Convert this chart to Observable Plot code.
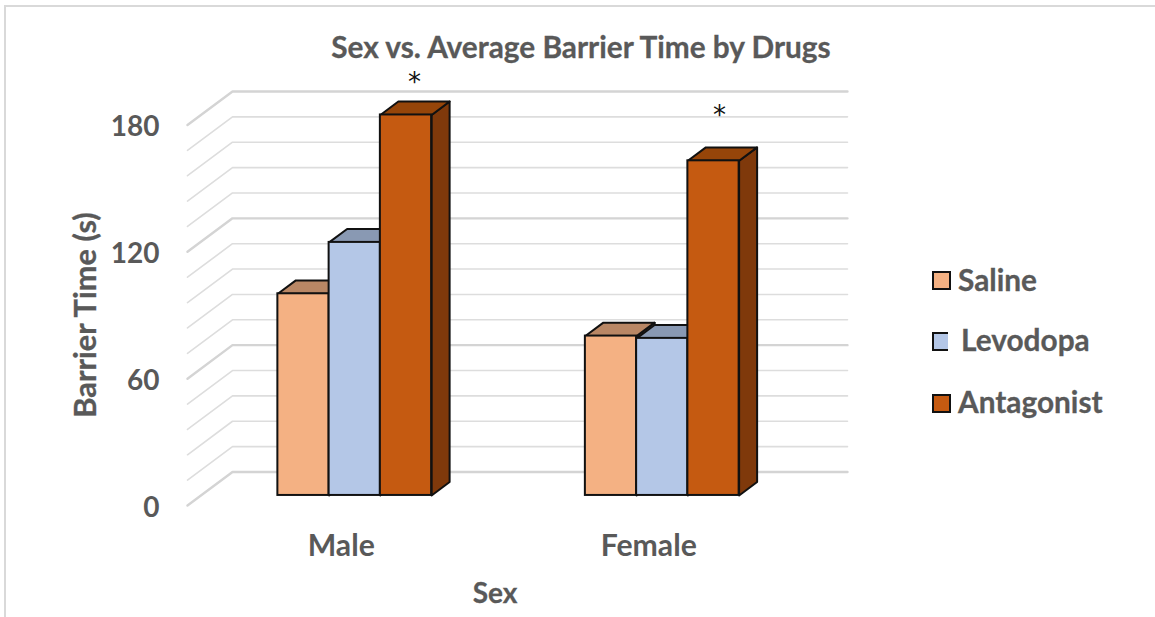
<!DOCTYPE html>
<html>
<head>
<meta charset="utf-8">
<script src="https://cdn.jsdelivr.net/npm/d3@7"></script>
<script src="https://cdn.jsdelivr.net/npm/@observablehq/plot@0.6"></script>
<style>
  html, body { margin: 0; padding: 0; background: #fff; overflow: hidden; }
  #frame { position: absolute; left: 4px; top: 5px; width: 1151px; height: 612px;
           border-left: 2px solid #d9d9d9; border-top: 2px solid #d9d9d9; box-sizing: border-box; }
  #chart { position: absolute; left: 0; top: 0; }
  .t { position: absolute; font-family: Lato, sans-serif; font-weight: 700; color: #595959; white-space: nowrap; line-height: 1; -webkit-text-stroke: 0.3px #595959; }
  .sw { position: absolute; box-sizing: border-box; border: 2px solid #111; }
</style>
</head>
<body>
<div id="frame"></div>
<div id="chart"></div>
<div class="t" style="left:581px;top:32px;font-size:29.8px;transform:translateX(-50%)">Sex vs. Average Barrier Time by Drugs</div>
<div class="t" style="left:85px;top:315px;font-size:30.8px;transform:translate(-50%,-50%) rotate(-90deg)">Barrier Time (s)</div>
<div class="t" style="left:495px;top:578px;font-size:28px;transform:translateX(-50%)">Sex</div>
<div class="sw" style="left:932px;top:271px;width:19px;height:19px;background:#f4b183"></div>
<div class="t" style="left:958px;top:265px;font-size:29.8px">Saline</div>
<div class="sw" style="left:932px;top:332px;width:16px;height:19px;background:#b4c7e7;border-right:0"></div>
<div class="t" style="left:961px;top:325px;font-size:29.8px">Levodopa</div>
<div class="sw" style="left:932px;top:394px;width:19px;height:19px;background:#c55a11"></div>
<div class="t" style="left:958px;top:387px;font-size:29.8px">Antagonist</div>
<script>
const categories = ["Male", "Female"];
const series = ["Saline", "Levodopa", "Antagonist"];
const saline = [95.4, 75.4];
const levodopa = [119.7, 74.3];
const antagonist = [180, 158.3];
const frontColors = ["#f4b183", "#b4c7e7", "#c55a11"];
const topColors = ["#b98765", "#8999b3", "#964509"];
const sideColors = ["#b98765", "#8999b3", "#7f390b"];
const yTicks = [0, 60, 120, 180];
const gridValues = d3.range(0, 181, 12);
const asteriskX = [0.238, 1.23];
const asteriskY = [200, 184.5];

const values = [saline, levodopa, antagonist];
// oblique projection: one unit of depth shifts by these amounts in scale units
const DX = 0.1463, DY = 15.85;
const depthFront = 0.3, depthBack = 0.7;
const barW = 1 / 6;

const pt = (cat, v, depth) => ({x: cat + depth * DX, y: v + depth * DY});

const bars = [];
categories.forEach((c, ci) => series.forEach((s, si) => {
  const x0 = ci - 0.25 + si * barW;
  bars.push({id: c + s, si, x0, x1: x0 + barW, v: values[si][ci]});
}));

const faces = bars.flatMap(b => {
  const side = [pt(b.x1, 0, depthFront), pt(b.x1, 0, depthBack), pt(b.x1, b.v, depthBack), pt(b.x1, b.v, depthFront)];
  const top = [pt(b.x0, b.v, depthFront), pt(b.x0, b.v, depthBack), pt(b.x1, b.v, depthBack), pt(b.x1, b.v, depthFront)];
  return [
    ...side.map(p => ({...p, id: b.id + "side", fill: sideColors[b.si]})),
    ...top.map(p => ({...p, id: b.id + "top", fill: topColors[b.si]}))
  ];
});

const grid = gridValues.flatMap(v => [pt(-0.5, v, 0), pt(-0.5, v, 1), pt(1.5, v, 1)].map(p => ({...p, v})));
const isMajor = d => d.v % 60 === 0;

const fronts = bars.map(b => ({
  x1: b.x0 + depthFront * DX, x2: b.x1 + depthFront * DX,
  y1: depthFront * DY, y2: b.v + depthFront * DY, fill: frontColors[b.si]
}));

const tickFont = {fontWeight: 700, fontFamily: "Lato, sans-serif", fill: "#595959", stroke: "#595959", strokeWidth: 0.3};

const plot = Plot.plot({
  width: 1155, height: 617,
  marginLeft: 187, marginRight: 353, marginTop: 124.5, marginBottom: 112,
  style: {background: "transparent", overflow: "visible"},
  x: {domain: [-0.5, 1.5]},
  y: {domain: [0, 180]},
  marks: [
    Plot.line(grid.filter(d => !isMajor(d)), {x: "x", y: "y", z: "v", stroke: "#dddddd", strokeWidth: 1.6}),
    Plot.line(grid.filter(isMajor), {x: "x", y: "y", z: "v", stroke: "#d4d4d4", strokeWidth: 2.4}),
    Plot.line(faces, {x: "x", y: "y", z: "id", fill: "fill", stroke: "#111", strokeWidth: 2, curve: "linear-closed", strokeLinejoin: "round"}),
    Plot.rect(fronts, {x1: "x1", x2: "x2", y1: "y1", y2: "y2", fill: "fill", stroke: "#111", strokeWidth: 2}),
    Plot.text(asteriskX, {x: d => d, y: (d, i) => asteriskY[i], text: () => "*", fontSize: 26, fontFamily: "DejaVu Sans, sans-serif", fill: "#111"}),
    Plot.axisY({ticks: yTicks, tickSize: 0, tickPadding: 28, dy: 2.5, label: null, fontSize: 28, ...tickFont}),
    Plot.axisX({ticks: [0, 1], tickFormat: i => categories[i], tickSize: 0, tickPadding: 29.5, label: null, fontSize: 30.2, ...tickFont})
  ]
});
document.getElementById("chart").append(plot);
</script>
</body>
</html>
